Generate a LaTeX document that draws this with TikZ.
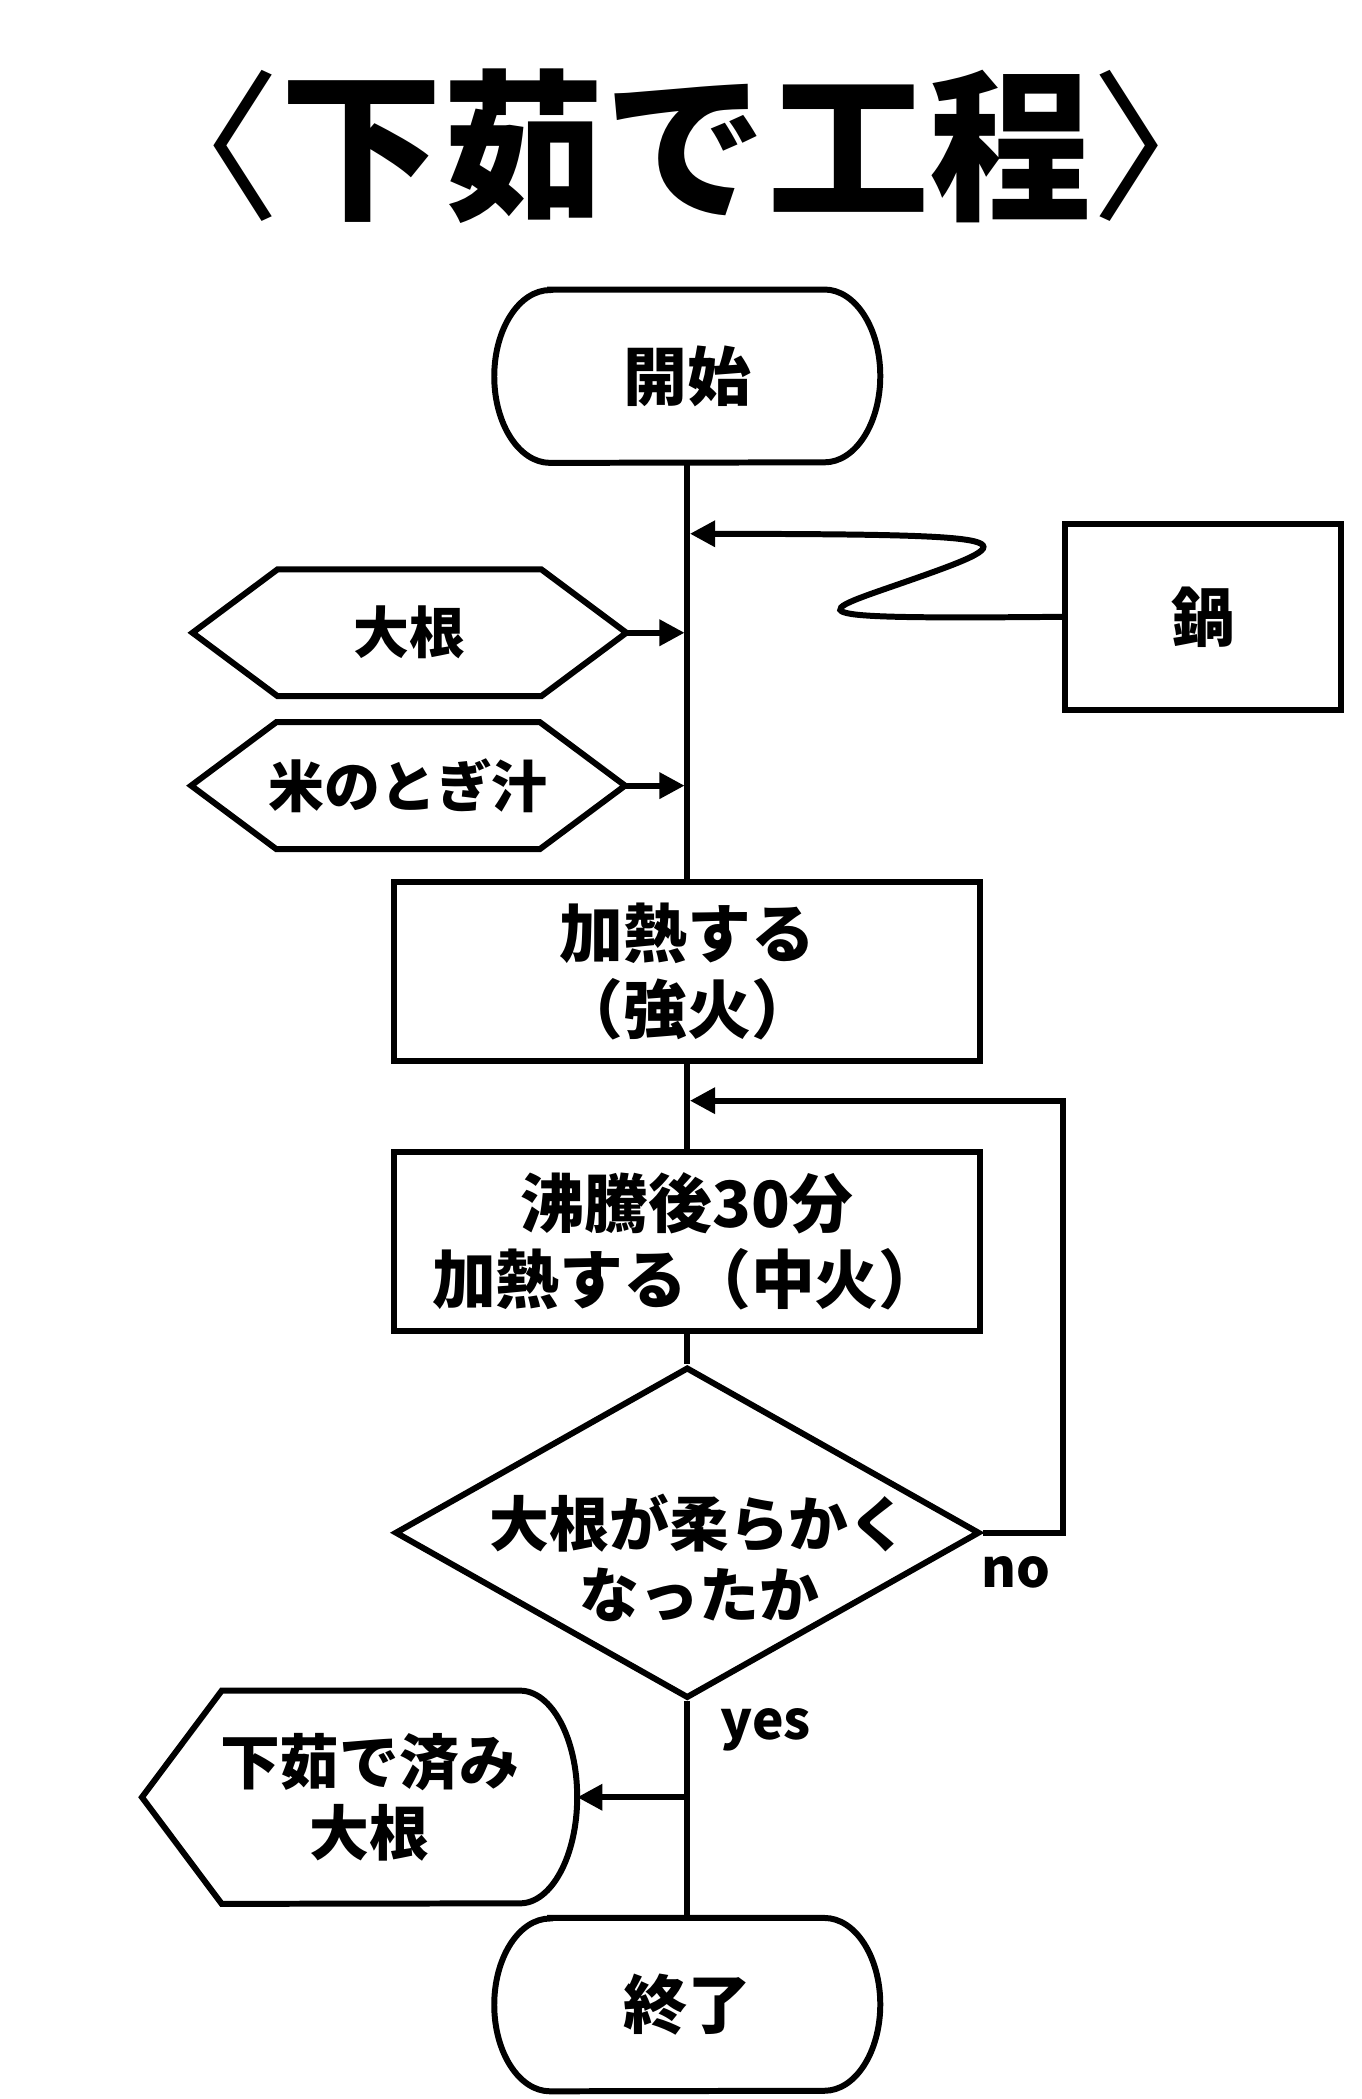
\documentclass[tikz,border=0pt]{standalone}
\usepackage{fontspec}
\setmainfont{Noto Sans CJK JP}
\usetikzlibrary{arrows.meta,shapes.geometric}

\begin{document}
\begin{tikzpicture}[x=1pt,y=-1pt,
  line/.style={line width=4.5pt},
  arr/.style={line width=4.5pt,-{Triangle[length=19pt,width=19pt]}},
  big/.style={font=\fontsize{48}{57}\selectfont\bfseries,align=center,inner sep=0pt},
  mid/.style={font=\fontsize{45}{54}\selectfont\bfseries,align=center,inner sep=0pt},
  small/.style={font=\fontsize{42}{50}\selectfont\bfseries,inner sep=0pt},
  term/.style={big,minimum width=290pt,minimum height=130pt},
  prep/.style={small,minimum width=326pt,minimum height=95pt},
  proc/.style={big,draw,line width=4.5pt,minimum width=441pt,minimum height=135pt},
  lbl/.style={font=\fontsize{40}{46}\selectfont\bfseries,inner sep=0pt}]
\useasboundingbox (0,0) rectangle (1024,1579);
\node[font=\fontsize{122}{130}\selectfont\bfseries] (title) at (516,110) {{\mdseries 〈}下茹で工程{\mdseries 〉}};
% terminals
\node[term] (start) at (517,283) {開始};
\node[term] (end) at (517,1508) {終了};
\foreach \n in {start,end}
  \draw[line] ([xshift=42pt]\n.north west) -- ([xshift=-42pt]\n.north east)
    arc[start angle=90,end angle=-90,x radius=42pt,y radius=65pt]
    -- ([xshift=42pt]\n.south west)
    arc[start angle=270,end angle=90,x radius=42pt,y radius=65pt] -- cycle;
% inputs
\node[big,draw,line width=4.5pt,minimum width=207pt,minimum height=140pt] (pot) at (905,464) {鍋};
\node[prep] (daikon) at (308,476) {大根};
\node[prep] (rice) at (307,591) {米のとぎ汁};
\foreach \n in {daikon,rice}
  \draw[line] (\n.west) -- ([xshift=64pt]\n.north west) -- ([xshift=-64pt]\n.north east)
    -- (\n.east) -- ([xshift=-64pt]\n.south east) -- ([xshift=64pt]\n.south west) -- cycle;
% steps
\node[proc] (heat) at (517,731) {加熱する\\（強火）};
\node[proc] (boil) at (517,934) {沸騰後30分\\加熱する（中火）};
\node[diamond,draw,line width=4.5pt,minimum width=440pt,minimum height=249pt,inner sep=0pt] (check) at (517,1153) {};
\node[mid,font=\fontsize{45}{53}\selectfont\bfseries] (checktxt) at (526,1172) {大根が柔らかく\\なったか};
\node[mid,minimum width=312pt,minimum height=160pt] (done) at (278,1352) {下茹で済み\\大根};
\draw[line] ([xshift=-15pt]done.west) -- ([xshift=45pt]done.north west) -- ([xshift=-43pt]done.north east)
  arc[start angle=90,end angle=-90,x radius=43pt,y radius=80pt] -- ([xshift=45pt]done.south west) -- cycle;
\node[lbl] (no) at (764,1183) {no};
\node[lbl] (yes) at (576,1301) {yes};
\coordinate (j0) at (519,401.5);
\coordinate (j1) at (519,828);
\coordinate (j2) at (515,476);
\coordinate (j3) at (515,591);
\coordinate (j4) at (517,1352);
\coordinate (loop) at (799.5,828);
% connectors
\draw[line] (start) -- (heat);
\draw[line] (heat) -- (boil);
\draw[line] (boil) -- (check);
\draw[line] (check) -- (end);
\draw[arr] (pot.west) .. controls (585,466) and (612,462) .. (686,436)
  .. controls (776,404.5) and (770,402) .. (j0);
\draw[arr] (daikon.east) -- (j2);
\draw[arr] (rice.east) -- (j3);
\draw[arr] (check.east) -| (loop) -- (j1);
\draw[arr] (j4) -- (done.east);
\end{tikzpicture}
\end{document}
